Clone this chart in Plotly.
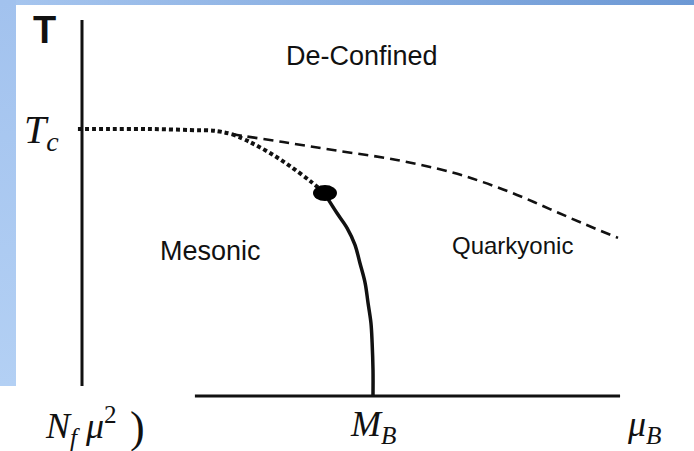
import plotly.graph_objects as go

# Phase diagram in units of mu_B / M_B (horizontal) and T / T_c (vertical)
X_MIN, X_MAX = -0.2818, 2.1031
Y_MIN, Y_MAX = -0.206, 1.483

# Axes of the diagram
t_axis_mu = [0.0, 0.0]
t_axis_T = [0.037, 1.408]
mu_axis_mu = [0.388, 1.849]
mu_axis_T = [0.0, 0.0]

# Deconfinement line at T_c (dotted) up to the splitting point
tc_mu = [-0.014, 0.096, 0.234, 0.371, 0.457, 0.515]
tc_T = [1.0, 1.0, 1.0, 0.996, 0.993, 0.981]

# Dotted crossover branch down to the critical point
cross_mu = [0.515, 0.577, 0.646, 0.715, 0.784, 0.818]
cross_T = [0.981, 0.951, 0.910, 0.861, 0.805, 0.775]

# Dashed quarkyonic boundary
quark_mu = [0.515, 0.553, 0.691, 0.863, 1.082, 1.265, 1.378, 1.495, 1.608, 1.722, 1.842]
quark_T = [0.981, 0.974, 0.951, 0.921, 0.884, 0.839, 0.801, 0.753, 0.700, 0.646, 0.592]

# First-order line from the critical point down to M_B
first_mu = [0.845, 0.876, 0.911, 0.938, 0.955, 0.973, 0.983, 0.993, 0.997, 1.0, 1.0]
first_T = [0.738, 0.685, 0.629, 0.566, 0.498, 0.423, 0.348, 0.273, 0.199, 0.097, 0.0]

# Critical end point
cp_mu, cp_T = 0.835, 0.760

# Region labels
region_names = ["De-Confined", "Mesonic", "Quarkyonic"]
region_mu = [0.962, 0.440, 1.481]
region_T = [1.272, 0.543, 0.563]
region_size = [27, 27, 24]

fig = go.Figure()

# Blue frame: top strip and left strip
fig.add_trace(go.Scatter(
    x=[X_MIN, X_MAX, X_MAX, X_MIN, X_MIN],
    y=[1.4645, 1.4645, Y_MAX, Y_MAX, 1.4645],
    mode="lines", line=dict(width=0), fill="toself",
    fillgradient=dict(type="horizontal",
                      colorscale=[[0, "#a7c6ef"], [1, "#6c98d4"]]),
    hoverinfo="skip", showlegend=False))
fig.add_trace(go.Scatter(
    x=[X_MIN, -0.2268, -0.2268, X_MIN, X_MIN],
    y=[0.037, 0.037, Y_MAX, Y_MAX, 0.037],
    mode="lines", line=dict(width=0), fill="toself",
    fillgradient=dict(type="vertical",
                      colorscale=[[0, "#b3d0f4"], [1, "#a2c2ee"]]),
    hoverinfo="skip", showlegend=False))

# Axes
fig.add_trace(go.Scatter(x=t_axis_mu, y=t_axis_T, mode="lines",
                         line=dict(color="#111111", width=3),
                         hoverinfo="skip", showlegend=False))
fig.add_trace(go.Scatter(x=mu_axis_mu, y=mu_axis_T, mode="lines",
                         line=dict(color="#111111", width=3),
                         hoverinfo="skip", showlegend=False))

# Phase boundaries
fig.add_trace(go.Scatter(x=quark_mu, y=quark_T, mode="lines",
                         line=dict(color="#111111", width=2.6, dash="10px,6px", shape="spline"),
                         hoverinfo="skip", showlegend=False))
fig.add_trace(go.Scatter(x=tc_mu, y=tc_T, mode="lines",
                         line=dict(color="#111111", width=4, dash="4px,3px", shape="spline"),
                         hoverinfo="skip", showlegend=False))
fig.add_trace(go.Scatter(x=cross_mu, y=cross_T, mode="lines",
                         line=dict(color="#111111", width=4, dash="4px,3px", shape="spline"),
                         hoverinfo="skip", showlegend=False))
fig.add_trace(go.Scatter(x=first_mu, y=first_T, mode="lines",
                         line=dict(color="#111111", width=3.5, shape="spline"),
                         hoverinfo="skip", showlegend=False))

# Critical point drawn as a flattened disc
fig.add_shape(type="circle", xref="x", yref="y",
              xsizemode="pixel", ysizemode="pixel",
              xanchor=cp_mu, yanchor=cp_T,
              x0=-12, x1=12, y0=-8, y1=8,
              fillcolor="#000000", line=dict(width=0))

sans = "Liberation Sans, Arial, sans-serif"
serif = "Liberation Serif, Times New Roman, serif"

for name, m, t, s in zip(region_names, region_mu, region_T, region_size):
    fig.add_annotation(x=m, y=t, text=name, showarrow=False,
                       font=dict(family=sans, size=s, color="#111111"))

# Axis labels
fig.add_annotation(x=-0.1306, y=1.371, text="<b>T</b>", showarrow=False,
                   font=dict(family=sans, size=38, color="#111111"))
fig.add_annotation(x=-0.14, y=0.99, text="<i>T<sub>c</sub></i>", showarrow=False,
                   font=dict(family=serif, size=40, color="#111111"))
fig.add_annotation(x=1.0, y=-0.115, text="<i>M<sub>B</sub></i>", showarrow=False,
                   font=dict(family=serif, size=36, color="#111111"))
fig.add_annotation(x=1.93, y=-0.115, text="<i>μ<sub>B</sub></i>", showarrow=False,
                   font=dict(family=serif, size=36, color="#111111"))

# Formula fragment at the lower left
fig.add_annotation(x=-0.134, y=-0.112, xanchor="left", yanchor="middle",
                   text="<i>N<sub>f</sub> μ</i><sup>2</sup>", showarrow=False,
                   font=dict(family=serif, size=36, color="#111111"))
fig.add_annotation(x=0.19, y=-0.118, text=")", showarrow=False,
                   font=dict(family=serif, size=44, color="#111111"))

fig.update_layout(
    width=694, height=451,
    margin=dict(l=0, r=0, t=0, b=0),
    paper_bgcolor="#ffffff", plot_bgcolor="#ffffff",
    xaxis=dict(range=[X_MIN, X_MAX], visible=False, fixedrange=True),
    yaxis=dict(range=[Y_MIN, Y_MAX], visible=False, fixedrange=True),
    showlegend=False,
)

fig.write_html("out.html")
